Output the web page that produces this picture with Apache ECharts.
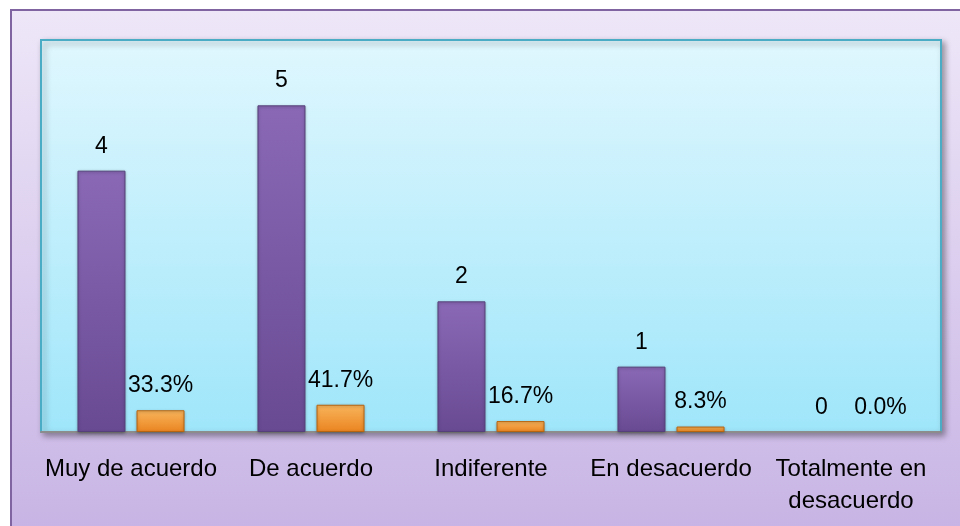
<!DOCTYPE html>
<html>
<head>
<meta charset="utf-8">
<script src="https://cdn.jsdelivr.net/npm/echarts@6/dist/echarts.min.js"></script>
<style>html,body{margin:0;padding:0;background:#fff}#c{width:960px;height:526px}</style>
</head>
<body>
<div id="c"></div>
<script>
const categories = ['Muy de acuerdo', 'De acuerdo', 'Indiferente', 'En desacuerdo', 'Totalmente en desacuerdo'];
const counts = [4, 5, 2, 1, 0];
const percents = [0.333, 0.417, 0.167, 0.083, 0];

const chart = echarts.init(document.getElementById('c'));
const FONT = 'Liberation Sans';
const lg = (c0, c1, horiz) => new echarts.graphic.LinearGradient(0, 0, horiz ? 1 : 0, horiz ? 0 : 1, [
  {offset: 0, color: c0}, {offset: 1, color: c1}
]);
// zero-height bars draw no outline
const toItems = arr => arr.map(v => v === 0 ? {value: v, itemStyle: {borderWidth: 0, shadowBlur: 0, opacity: 0}} : v);

chart.setOption({
  backgroundColor: '#ffffff',
  animation: false,
  graphic: [{
    type: 'rect', z: -10, silent: true,
    shape: {x: 11, y: 10, width: 960, height: 530},
    style: {fill: lg('#EEE7F8', '#C7B3E4'), stroke: '#8064A2', lineWidth: 2}
  }],
  grid: {
    left: 41, right: 19, top: 40, bottom: 94, show: true,
    backgroundColor: lg('#E0F7FE', '#9FE6FA'),
    borderColor: '#4BACC6', borderWidth: 2,
    shadowColor: 'rgba(0,0,0,0.35)', shadowBlur: 6, shadowOffsetX: 3, shadowOffsetY: 3
  },
  xAxis: {
    type: 'category', data: categories,
    axisLine: {show: true, lineStyle: {color: '#8C8C8C', width: 2}},
    axisTick: {show: false},
    axisLabel: {
      interval: 0, hideOverlap: false,
      margin: 21, color: '#000', fontFamily: FONT, fontSize: 24, lineHeight: 32,
      formatter: v => v === 'Totalmente en desacuerdo' ? 'Totalmente en\ndesacuerdo' : v
    }
  },
  yAxis: {
    type: 'value', min: 0, max: 6, show: false, splitLine: {show: false}
  },
  series: [{
    type: 'bar', data: toItems(counts), barWidth: 48, barGap: '23%',
    itemStyle: {
      color: lg('#8A68B6', '#684A92'), borderColor: '#56407A', borderWidth: 1,
      shadowColor: 'rgba(0,0,0,0.3)', shadowBlur: 3, shadowOffsetY: 1
    },
    label: {show: true, position: 'top', distance: 13, color: '#000', fontFamily: FONT, fontSize: 23, opacity: 1}
  }, {
    type: 'bar', data: toItems(percents), barWidth: 48,
    itemStyle: {
      color: lg('#F9B55C', '#EA8420'), borderColor: '#B8640F', borderWidth: 1,
      shadowColor: 'rgba(0,0,0,0.3)', shadowBlur: 3, shadowOffsetY: 1
    },
    label: {
      show: true, position: 'top', distance: 13, color: '#000', fontFamily: FONT, fontSize: 23, opacity: 1,
      formatter: p => (p.value * 100).toFixed(1) + '%'
    }
  }]
});
</script>
</body>
</html>
